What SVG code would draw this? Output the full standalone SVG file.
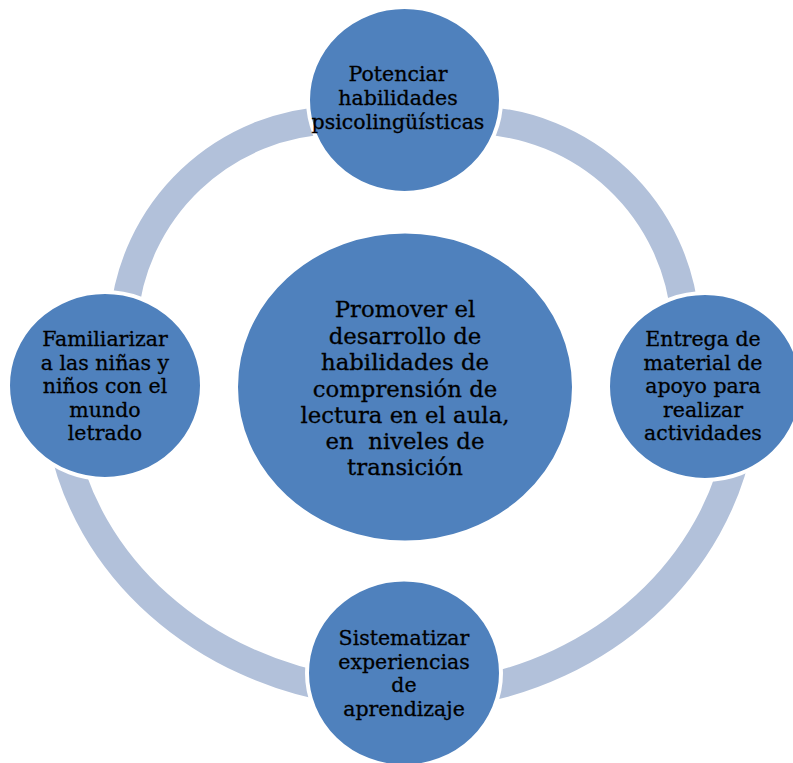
<svg xmlns="http://www.w3.org/2000/svg" width="793" height="763" viewBox="0 0 793 763">
<style>
.node{fill:#4F81BD;stroke:#FFFFFF;stroke-width:4}
.ring{fill:none;stroke:#B2C1DA;stroke-width:28}
.t{font-family:"DejaVu Serif","Liberation Serif",serif;font-size:20.5px;fill:#000;stroke:#000;stroke-width:0.3;text-anchor:middle}
.tc{font-family:"DejaVu Serif","Liberation Serif",serif;font-size:22.8px;fill:#000;stroke:#000;stroke-width:0.3;text-anchor:middle}
</style>
<rect width="793" height="763" fill="#FFFFFF"/>
<g id="connectors">
<path class="ring" d="M 123.83 318.09 A 217 217 0 0 1 332.43 120.13"/>
<path class="ring" d="M 476.57 120.13 A 217 217 0 0 1 685.17 318.09"/>
<path class="ring" d="M 739.34 440 A 340 311 0 0 1 463.54 692.28"/>
<path class="ring" d="M 343.74 690.3 A 347 309 0 0 1 62.27 439.66"/>
</g>
<g id="center">
<ellipse class="node" cx="405" cy="387" rx="169" ry="155.5"/>
<text class="tc" xml:space="preserve"><tspan x="405" y="317">Promover el</tspan><tspan x="405" y="343.5">desarrollo de</tspan><tspan x="405" y="370">habilidades de</tspan><tspan x="405" y="396.5">comprensión de</tspan><tspan x="405" y="423">lectura en el aula,</tspan><tspan x="405" y="449">en  niveles de</tspan><tspan x="405" y="475">transición</tspan></text>
</g>
<g id="top">
<ellipse class="node" cx="404.5" cy="100" rx="96.5" ry="93"/>
<text class="t"><tspan x="398" y="81">Potenciar</tspan><tspan x="398" y="105">habilidades</tspan><tspan x="398" y="129">psicolingüísticas</tspan></text>
</g>
<g id="left">
<ellipse class="node" cx="105" cy="385.5" rx="97" ry="93.5"/>
<text class="t"><tspan x="105" y="346">Familiarizar</tspan><tspan x="105" y="369.5">a las niñas y</tspan><tspan x="105" y="393">niños con el</tspan><tspan x="105" y="416.5">mundo</tspan><tspan x="105" y="440">letrado</tspan></text>
</g>
<g id="right">
<ellipse class="node" cx="705" cy="386.5" rx="97" ry="93.5"/>
<text class="t"><tspan x="703" y="346">Entrega de</tspan><tspan x="703" y="369.5">material de</tspan><tspan x="703" y="393">apoyo para</tspan><tspan x="703" y="416.5">realizar</tspan><tspan x="703" y="440">actividades</tspan></text>
</g>
<g id="bottom">
<ellipse class="node" cx="404" cy="673" rx="97" ry="93.5"/>
<text class="t"><tspan x="404" y="645">Sistematizar</tspan><tspan x="404" y="668.5">experiencias</tspan><tspan x="404" y="692">de</tspan><tspan x="404" y="715.5">aprendizaje</tspan></text>
</g>
</svg>
